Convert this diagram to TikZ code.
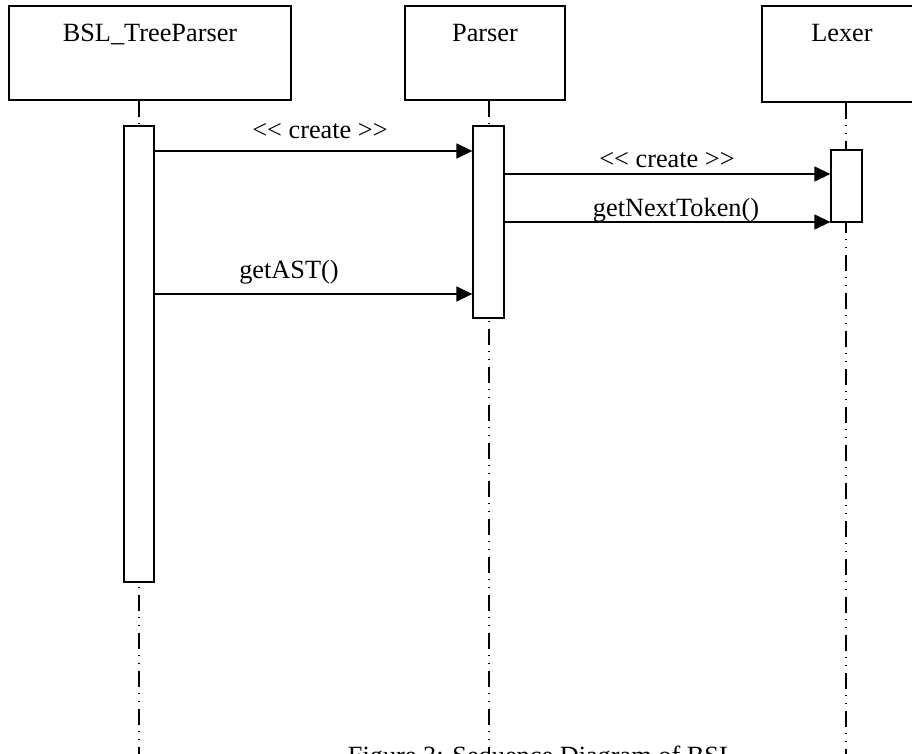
\documentclass[tikz,border=0pt]{standalone}
\usepackage{fontspec}
\setmainfont{Liberation Serif}
\usetikzlibrary{arrows.meta}
\begin{document}
\begin{tikzpicture}[x=0.5pt,y=-0.5pt,
  objbox/.style={draw, line width=0.65pt, inner sep=0pt, fill=white},
  actbar/.style={draw, line width=0.65pt, inner sep=0pt, fill=white},
  lifeline/.style={line width=0.65pt,
    dash pattern=on 8pt off 3pt on 0.75pt off 3.25pt on 0.75pt off 3.25pt},
  msg/.style={line width=0.65pt, -{Triangle[length=8pt,width=7.5pt]}},
  txt/.style={font=\fontsize{13.15}{15}\selectfont, inner sep=0pt, anchor=base}]
\useasboundingbox (0,0) rectangle (912,754);
\clip (0,0) rectangle (912,754);

% object boxes
\node[objbox, minimum width=141pt, minimum height=47pt] (bsl) at (150,53) {};
\node[objbox, minimum width=80pt, minimum height=47pt] (parser) at (485,53) {};
\node[objbox, minimum width=80pt, minimum height=48pt] (lexer) at (842,54) {};
\node[txt] (bsltxt) at (150,42) {BSL\_TreeParser};
\node[txt] (parsertxt) at (485,42) {Parser};
\node[txt] (lexertxt) at (842,42) {Lexer};

% caption
\node[txt] (cap) at (541.5,765) {Figure 3: Sequence Diagram of BSL};

% lifelines
\coordinate (bsldown) at (139,770);
\coordinate (parserdown) at (489,770);
\coordinate (lexerdown) at (846,770);
\draw[lifeline] (bsl.south -| bsldown) -- (bsldown);
\draw[lifeline] (parser.south -| parserdown) -- (parserdown);
\draw[lifeline] (lexer.south -| lexerdown) -- (lexerdown);

% activation bars
\node[actbar, minimum width=15pt, minimum height=228pt] (bslbar) at (139,354) {};
\node[actbar, minimum width=15.5pt, minimum height=96pt] (parserbar) at (488.5,222) {};
\node[actbar, minimum width=15.5pt, minimum height=36pt] (lexerbar) at (846.5,186) {};

% messages
\coordinate (m1) at (0,151);
\coordinate (m2) at (0,174);
\coordinate (m3) at (0,222);
\coordinate (m4) at (0,294);
\draw[msg] (bslbar.east |- m1) -- (parserbar.west |- m1);
\draw[msg] (parserbar.east |- m2) -- (lexerbar.west |- m2);
\draw[msg] (parserbar.east |- m3) -- (lexerbar.west |- m3);
\draw[msg] (bslbar.east |- m4) -- (parserbar.west |- m4);

\node[txt] (l1) at (320,139) {<{}< create >{}>};
\node[txt] (l2) at (667,168) {<{}< create >{}>};
\node[txt] (l3) at (676,217) {getNextToken()};
\node[txt] (l4) at (289,279) {getAST()};
\end{tikzpicture}
\end{document}
